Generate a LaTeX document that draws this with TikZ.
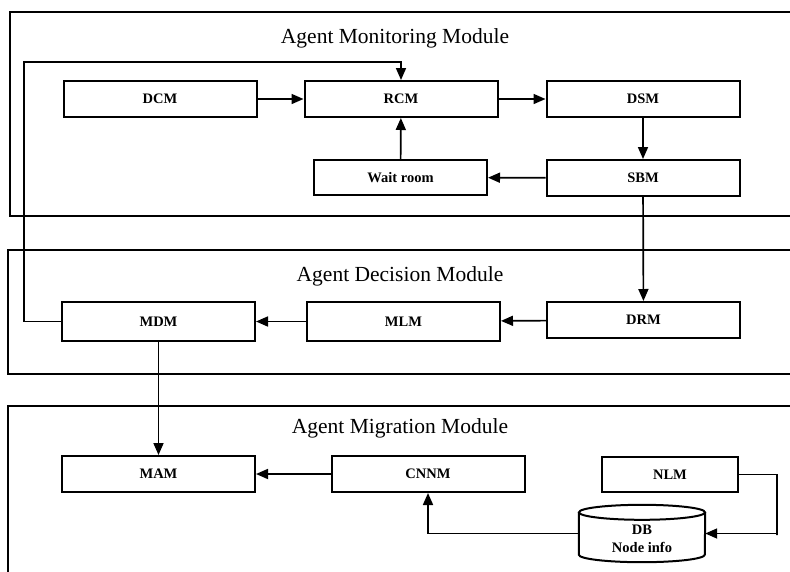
\documentclass[tikz,border=0pt]{standalone}
\usepackage{fontspec}
\setmainfont{Liberation Serif}
\usetikzlibrary{arrows.meta,positioning,shapes.geometric}

\tikzset{
  unit/.style={draw=black, line width=2pt, minimum width=193pt, minimum height=36pt,
    inner sep=0pt, font=\fontsize{14.5}{16}\selectfont\bfseries},
  store/.style={minimum width=126pt, minimum height=57pt, inner sep=0pt},
  storeline/.style={line width=2pt},
  storetext/.style={align=center, inner sep=0pt,
    font=\fontsize{14.5}{18}\selectfont\bfseries},
  flow/.style={line width=1.7pt, -{Triangle[length=12pt,width=10pt]}},
  module/.style={line width=2pt},
  title/.style={font=\fontsize{21.5}{24}\selectfont}
}

\begin{document}
\begin{tikzpicture}[x=1pt,y=-1pt]
  \useasboundingbox (0,0) rectangle (790,571);

  % modules
  \draw[module] (10,12) rectangle (800,216);
  \draw[module] (8,250) rectangle (800,374);
  \draw[module] (8,406) rectangle (800,600);
  \node (tmon) [title] at (395,38) {Agent Monitoring Module};
  \node (tdec) [title] at (400,276) {Agent Decision Module};
  \node (tmig) [title] at (400,428) {Agent Migration Module};

  % monitoring
  \node (DCM) [unit] at (160,99) {DCM};
  \node (RCM) [unit] at (401,99) {RCM};
  \node (DSM) [unit] at (643,99) {DSM};
  \node (WR) [unit, minimum width=173pt, minimum height=35pt] at (400.5,177.5) {Wait room};
  \node (SBM) [unit] at (643,178) {SBM};

  % decision
  \node (MDM) [unit, minimum height=39pt] at (158.5,321.5) {MDM};
  \node (MLM) [unit, minimum height=39pt] at (403.5,321.5) {MLM};
  \node (DRM) [unit] at (643.5,320) {DRM};

  % migration
  \node (MAM) [unit] at (158.5,474) {MAM};
  \node (CNNM) [unit] at (428,474) {CNNM};
  \node (NLM) [unit, minimum width=136pt, minimum height=35pt] at (670,474.5) {NLM};

  % data store
  \node (DB) [store] at (642,533.5) {};
  \draw[storeline] ([yshift=-7.5pt]DB.north) ellipse [x radius=63pt, y radius=7.5pt];
  \draw[storeline] ([yshift=-7.5pt]DB.north west) -- ([yshift=7.5pt]DB.south west)
    arc[start angle=180, end angle=360, x radius=63pt, y radius=7.5pt]
    -- ([yshift=-7.5pt]DB.north east);
  \node (DBtext) [storetext] at ([yshift=-5pt]DB.center) {DB\\Node info};

  \coordinate (fb) at (24,62);
  \coordinate (nlmturn) at (777,535);

  \draw[flow] (DCM) -- (RCM);
  \draw[flow] (RCM) -- (DSM);
  \draw[flow] (DSM) -- (SBM);
  \draw[flow] (SBM) -- (WR);
  \draw[flow] (WR) -- (RCM);
  \draw[flow] (SBM) -- (DRM);
  \draw[flow] (DRM) -- (MLM);
  \draw[flow] (MLM) -- (MDM);
  \draw[flow] (MDM.west) -| (fb) -| (RCM.north);
  \draw[flow] (MDM) -- (MAM);
  \draw[flow] (CNNM) -- (MAM);
  \draw[flow] (NLM.east) -| (nlmturn) |- (DB.east);
  \draw[flow] (DB.west) -| (CNNM.south);
\end{tikzpicture}
\end{document}
